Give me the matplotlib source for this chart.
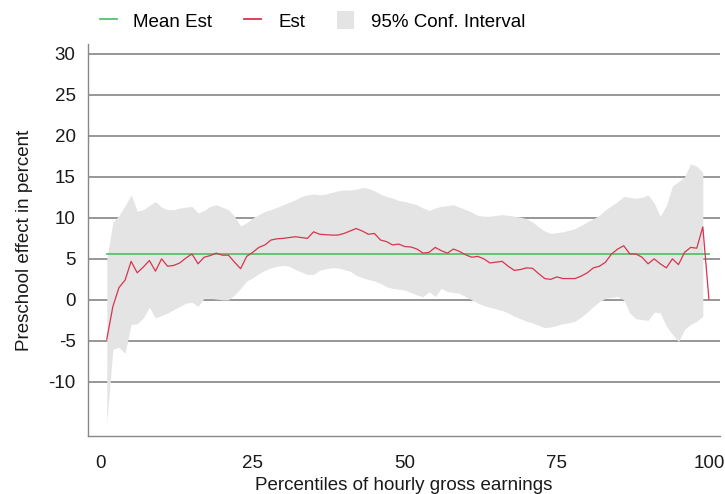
import numpy as np
import matplotlib
matplotlib.use("Agg")
import matplotlib.pyplot as plt
from matplotlib.lines import Line2D
from matplotlib.patches import Patch

plt.rcParams["font.family"] = ["Liberation Sans", "DejaVu Sans"]
plt.rcParams["axes.unicode_minus"] = False

# Percentiles of hourly gross earnings
percentiles = np.arange(1, 101)

# Point estimates of the preschool effect (percent)
est = [
    -4.8, -0.8, 1.5, 2.4, 4.7, 3.3, 4.0, 4.8, 3.5, 5.0,
    4.1, 4.2, 4.5, 5.1, 5.6, 4.4, 5.2, 5.4, 5.7, 5.45,
    5.45, 4.6, 3.8, 5.3, 5.8, 6.4, 6.7, 7.3, 7.45, 7.5,
    7.6, 7.7, 7.6, 7.5, 8.3, 8.0, 7.95, 7.9, 7.9, 8.1,
    8.4, 8.7, 8.4, 8.0, 8.1, 7.3, 7.1, 6.7, 6.8, 6.5,
    6.45, 6.2, 5.7, 5.8, 6.4, 6.0, 5.7, 6.2, 5.9, 5.5,
    5.2, 5.3, 5.0, 4.5, 4.6, 4.7, 4.1, 3.6, 3.7, 3.9,
    3.85, 3.2, 2.6, 2.5, 2.8, 2.6, 2.6, 2.6, 2.9, 3.3,
    3.9, 4.1, 4.6, 5.6, 6.2, 6.6, 5.6, 5.6, 5.2, 4.4,
    5.0, 4.4, 3.9, 5.0, 4.3, 5.8, 6.4, 6.3, 8.9, 0.1,
]

# Upper bound of the 95% confidence interval
ci_upper = [
    5.0, 9.5, 10.3, 11.5, 12.8, 10.8, 11.0, 11.5, 12.0, 11.3,
    11.0, 11.0, 11.2, 11.3, 11.4, 10.6, 10.9, 11.4, 11.6, 11.3,
    11.0, 10.2, 9.0, 9.4, 10.0, 10.4, 10.8, 11.0, 11.3, 11.6,
    11.9, 12.2, 12.6, 12.8, 12.9, 12.8, 12.9, 13.1, 13.3, 13.4,
    13.4, 13.5, 13.7, 13.6, 13.3, 12.9, 12.6, 12.4, 12.1, 12.0,
    11.8, 11.6, 11.2, 10.9, 11.2, 11.4, 11.5, 11.6, 11.3, 11.0,
    10.7, 10.3, 10.2, 10.2, 10.3, 10.4, 10.3, 10.2, 10.1, 9.9,
    9.5, 8.9, 8.4, 8.1, 8.2, 8.3, 8.5, 8.7, 9.1, 9.5,
    9.9, 10.3, 11.0, 11.5, 12.0, 12.6, 12.5, 12.4, 12.5, 12.8,
    11.8, 10.2, 11.5, 13.9, 14.4, 15.0, 16.6, 16.3, 15.5, np.nan,
]

# Lower bound of the 95% confidence interval
ci_lower = [
    -15.0, -6.0, -5.8, -6.5, -3.0, -2.9, -2.2, -0.9, -2.2, -1.9,
    -1.6, -1.2, -0.8, -0.4, -0.3, -0.8, 0.2, 0.2, 0.1, 0.0,
    0.0, 0.6, 1.4, 2.3, 2.7, 3.2, 3.6, 3.9, 4.1, 4.2,
    4.1, 3.7, 3.4, 3.1, 3.1, 3.6, 3.8, 3.9, 3.9, 3.7,
    3.5, 3.0, 2.7, 2.5, 2.3, 2.0, 1.6, 1.4, 1.3, 1.2,
    0.9, 0.6, 0.4, 1.0, 0.4, 1.4, 1.0, 0.9, 0.8, 0.4,
    0.0, -0.4, -0.7, -0.9, -1.1, -1.3, -1.6, -2.0, -2.3, -2.6,
    -2.8, -3.1, -3.4, -3.3, -3.1, -2.9, -2.8, -2.6, -2.1, -1.5,
    -0.8, -0.2, 0.2, 0.3, 0.4, 0.0, -1.6, -2.3, -2.4, -2.5,
    -1.5, -1.6, -3.2, -4.2, -5.1, -3.6, -3.0, -2.6, -2.0, np.nan,
]

mean_est = 5.6

x_ticks = [0, 25, 50, 75, 100]
y_ticks = [-10, -5, 0, 5, 10, 15, 20, 25, 30]

green = "#5cbf6e"
red = "#d8344f"
band = "#e4e4e4"
grid = "#7a7a7a"
text = "#1a1a1a"
fs = 13.5

fig = plt.figure(figsize=(7.25, 4.94), dpi=100)
ax = fig.add_axes([0.1214, 0.1174, 0.872, 0.7935])

ax.fill_between(percentiles, ci_lower, ci_upper, color=band, lw=0, zorder=2)
ax.plot(percentiles, np.full(len(percentiles), mean_est), color=green, lw=1.3, zorder=3)
ax.plot(percentiles, est, color=red, lw=0.9, zorder=4)

ax.set_xlim(-2.09, 101.86)
ax.set_ylim(-16.6, 31.2)
ax.set_xticks(x_ticks)
ax.set_yticks(y_ticks)
ax.tick_params(axis="both", length=0, labelsize=fs, colors=text)
ax.tick_params(axis="y", pad=9)
ax.tick_params(axis="x", pad=14)

ax.set_axisbelow(True)
ax.yaxis.grid(True, color=grid, lw=1.1)
ax.xaxis.grid(False)

for side in ("top", "right"):
    ax.spines[side].set_visible(False)
for side in ("left", "bottom"):
    ax.spines[side].set_color("#888888")
    ax.spines[side].set_linewidth(1.0)

ax.set_xlabel("Percentiles of hourly gross earnings", fontsize=fs, color=text, labelpad=3)
ax.set_ylabel("Preschool effect in percent", fontsize=fs, color=text, labelpad=11)

handles = [
    Line2D([], [], color=green, lw=1.3),
    Line2D([], [], color=red, lw=1.3),
    Patch(facecolor=band, edgecolor="none"),
]
labels = ["Mean Est", "Est", "95% Conf. Interval"]
fig.legend(handles, labels, loc="upper left", bbox_to_anchor=(0.122, 1.0),
           ncol=3, frameon=False, fontsize=fs, handlelength=0.9, handleheight=1.1,
           handletextpad=0.9, columnspacing=1.7, borderaxespad=0.2)

fig.savefig("out.png", dpi=100)
